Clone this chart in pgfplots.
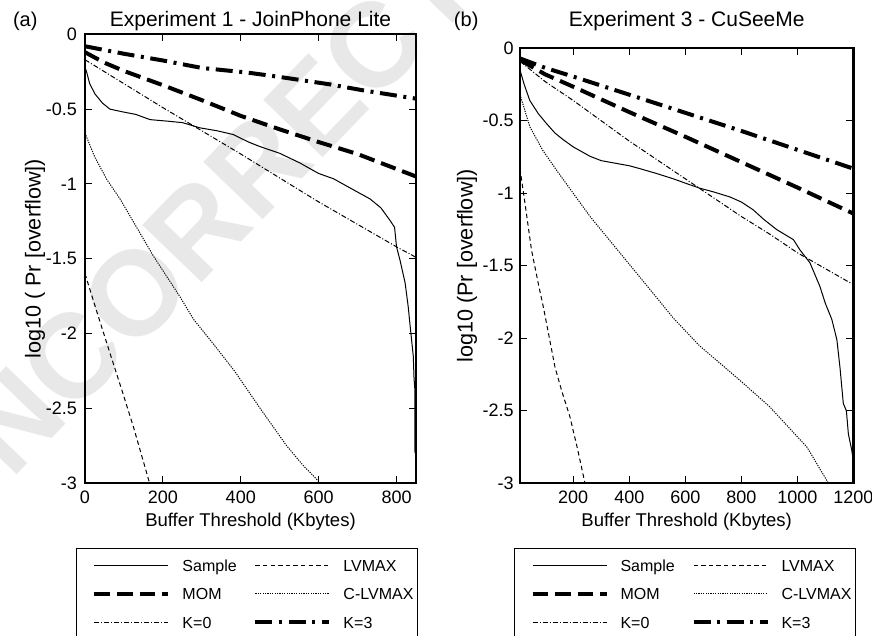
\documentclass[border=0pt]{standalone}
\usepackage{fontspec}
\setmainfont{Liberation Sans}
\usepackage{pgfplots}
\pgfplotsset{compat=1.18}

\pgfplotsset{
  sample/.style={black, line width=0.5pt, solid},
  lvmax/.style={black, line width=0.5pt, dash pattern=on 2.2pt off 1.6pt},
  mom/.style={black, line width=2pt, dash pattern=on 7.8pt off 3.5pt},
  clvmax/.style={black, line width=0.5pt, dash pattern=on 0.6pt off 0.6pt},
  kzero/.style={black, line width=0.5pt, dash pattern=on 2.5pt off 1pt on 0.5pt off 1pt},
  kthree/.style={black, line width=2pt, dash pattern=on 8.5pt off 3.3pt on 1.5pt off 3.3pt},
  myaxis/.style={
    scale only axis, anchor=south west,
    ymin=-3, ymax=0,
    ytick={-3,-2.5,-2,-1.5,-1,-0.5,0},
    yticklabels={-3,-2.5,-2,-1.5,-1,-0.5,0},
    tick align=inside,
    major tick length=3.6pt,
    tick style={black, line width=0.5pt},
    axis line style={line width=1.1pt},
    tick label style={font=\fontsize{9}{10.8}\selectfont},
    xticklabel style={anchor=base, yshift=-10.35pt},
    yticklabel style={anchor=east, inner xsep=0pt},
    every axis x label/.style={at={(axis description cs:0.5,0)}, anchor=center, yshift=-19.2pt, font=\fontsize{9.25}{11}\selectfont},
    every axis title shift=0pt,
    title style={at={(axis description cs:0.5,1)}, anchor=base, font=\fontsize{10.5}{12}\selectfont},
    legend columns=2,
    legend cell align=left,
    legend image code/.code={%
      \pgfpathmoveto{\pgfpoint{0pt}{0pt}}\pgfpathlineto{\pgfpoint{53pt}{0pt}}\pgfusepath{discard}%
      \draw[##1] (9pt,0pt) -- (46pt,0pt);},
    legend style={draw=black, line width=0.5pt, fill=white, anchor=north west,
      inner xsep=0pt, inner ysep=1.4pt, column sep=0pt, row sep=0pt,
      font=\fontsize{8}{9.6}\selectfont,
      nodes={inner xsep=0pt, inner ysep=4.1pt, text width=27.5pt, text height=6pt, text depth=0pt, align=left},
      /tikz/column 4/.style={nodes={text width=37pt}}},
  },
}

\begin{document}
\begin{tikzpicture}
% watermark
\node[rotate=46, text=black!9, font=\fontsize{60}{62}\selectfont\bfseries] at (123pt,229pt) {UNCORRECTED};

% ---------------- (a) ----------------
\begin{axis}[myaxis,
  at={(42.5pt,76.35pt)}, width=165.5pt, height=224.5pt,
  xmin=0, xmax=850,
  xtick={0,200,400,600,800}, xticklabels={0,200,400,600,800},
  title={Experiment 1 - JoinPhone Lite},
  title style={yshift=3.8pt},
  xlabel={Buffer Threshold (Kbytes)},
  ylabel={log10 ( Pr [overflow])},
  every axis y label/.style={at={(axis description cs:-0.151,0.5)}, rotate=90, anchor=center, font=\fontsize{10.8}{12}\selectfont},
  yticklabel style={xshift=-3.85pt},
  legend style={at={(-0.0272,-0.1441)}},
]
\addplot[sample] coordinates {(0,-0.22) (4,-0.25) (12,-0.33) (26,-0.40) (45,-0.46) (64,-0.50) (100,-0.52) (130,-0.535) (167,-0.57) (210,-0.58) (250,-0.59) (295,-0.625) (340,-0.645) (381,-0.67) (420,-0.72) (449,-0.75) (500,-0.795) (552,-0.86) (600,-0.93) (638,-0.965) (690,-1.04) (732,-1.1) (760,-1.16) (785,-1.25) (795,-1.29) (800,-1.42) (809,-1.51) (822,-1.66) (830,-1.82) (835,-1.95) (843,-2.15) (845,-2.30) (847,-2.37) (847,-2.78) (848,-2.80)};
\addlegendentry{Sample}
\addplot[lvmax] coordinates {(0,-1.6) (30,-1.85) (64,-2.13) (95,-2.38) (124,-2.62) (166,-3.0)};
\addlegendentry{LVMAX}
\addplot[mom] coordinates {(0,-0.12) (50,-0.19) (100,-0.245) (200,-0.34) (300,-0.44) (400,-0.545) (500,-0.635) (600,-0.72) (700,-0.8) (850,-0.95)};
\addlegendentry{MOM}
\addplot[clvmax] coordinates {(0,-0.66) (25,-0.82) (56,-0.97) (90,-1.10) (116,-1.216) (176,-1.483) (243,-1.75) (279,-1.905) (330,-2.07) (384,-2.25) (450,-2.5) (518,-2.75) (560,-2.88) (605,-3.0)};
\addlegendentry{\mbox{C-LVMAX}}
\addplot[kzero] coordinates {(0,-0.17) (50,-0.25) (100,-0.33) (200,-0.49) (300,-0.645) (400,-0.8) (500,-0.96) (600,-1.12) (700,-1.27) (800,-1.42) (850,-1.49)};
\addlegendentry{K=0}
\addplot[kthree] coordinates {(0,-0.08) (100,-0.13) (200,-0.175) (300,-0.225) (415,-0.255) (500,-0.285) (630,-0.335) (715,-0.375) (850,-0.43)};
\addlegendentry{K=3}
\end{axis}

% ---------------- (b) ----------------
\begin{axis}[myaxis,
  at={(260pt,76.35pt)}, width=166.7pt, height=217.5pt,
  xmin=10, xmax=1200,
  xtick={200,400,600,800,1000,1200}, xticklabels={200,400,600,800,1000,1200},
  title={Experiment 3 - CuSeeMe},
  title style={yshift=10.8pt},
  xlabel={Buffer Threshold (Kbytes)},
  ylabel={log10 (Pr [overflow])},
  every axis y label/.style={at={(axis description cs:-0.159,0.5)}, rotate=90, anchor=center, font=\fontsize{10.8}{12}\selectfont},
  yticklabel style={xshift=-3pt},
  legend style={at={(-0.018,-0.1487)}},
]
\addplot[sample] coordinates {(10,-0.15) (25,-0.25) (45,-0.36) (75,-0.45) (105,-0.52) (135,-0.585) (164,-0.63) (200,-0.68) (260,-0.745) (300,-0.775) (343,-0.79) (400,-0.81) (438,-0.83) (500,-0.865) (557,-0.9) (600,-0.93) (652,-0.965) (700,-0.99) (759,-1.025) (800,-1.06) (843,-1.115) (880,-1.18) (926,-1.25) (986,-1.32) (1009,-1.39) (1045,-1.48) (1080,-1.64) (1100,-1.76) (1123,-1.87) (1141,-2.01) (1152,-2.2) (1164,-2.45) (1175,-2.5) (1182,-2.66) (1194,-2.77) (1200,-2.85)};
\addlegendentry{Sample}
\addplot[lvmax] coordinates {(10,-0.83) (30,-1.1) (51,-1.39) (75,-1.62) (95,-1.8) (115,-2.0) (135,-2.2) (160,-2.37) (188,-2.54) (215,-2.76) (242,-3.0)};
\addlegendentry{LVMAX}
\addplot[mom] coordinates {(10,-0.08) (100,-0.18) (200,-0.265) (400,-0.44) (600,-0.61) (800,-0.785) (1000,-0.96) (1200,-1.14)};
\addlegendentry{MOM}
\addplot[clvmax] coordinates {(10,-0.32) (45,-0.54) (90,-0.7) (140,-0.84) (200,-1.0) (260,-1.16) (379,-1.44) (498,-1.72) (557,-1.86) (650,-2.05) (795,-2.29) (900,-2.47) (1034,-2.75) (1111,-3.0)};
\addlegendentry{\mbox{C-LVMAX}}
\addplot[kzero] coordinates {(10,-0.09) (100,-0.23) (200,-0.36) (300,-0.5) (400,-0.64) (500,-0.77) (600,-0.9) (700,-1.03) (800,-1.16) (900,-1.28) (1000,-1.41) (1100,-1.52) (1200,-1.63)};
\addlegendentry{K=0}
\addplot[kthree] coordinates {(10,-0.07) (100,-0.135) (200,-0.195) (400,-0.32) (600,-0.445) (800,-0.57) (1000,-0.7) (1200,-0.83)};
\addlegendentry{K=3}
\end{axis}

\node[anchor=base, font=\fontsize{10}{12}\selectfont] at (12.65pt,304.5pt) {(a)};
\node[anchor=base, font=\fontsize{10}{12}\selectfont] at (233.1pt,304.5pt) {(b)};

\pgfresetboundingbox
\useasboundingbox (0,0) rectangle (436pt,318pt);
\end{tikzpicture}
\end{document}
